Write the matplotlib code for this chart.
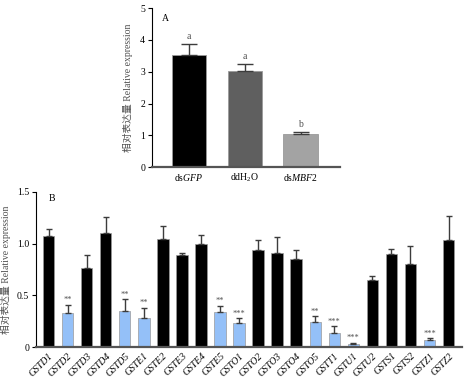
import matplotlib
matplotlib.use("Agg")
import matplotlib.pyplot as plt
import numpy as np

plt.rcParams["font.family"] = ["Liberation Serif", "Noto Sans CJK SC"]
plt.rcParams["mathtext.fontset"] = "custom"
plt.rcParams["mathtext.rm"] = "Liberation Serif"
plt.rcParams["mathtext.it"] = "Liberation Serif:italic"

# ---------------- data ----------------
a_labels = ["ds$\\mathit{GFP}$", "ddH$_2$O", "ds$\\mathit{MBF}$$\\mathit{2}$"]
a_values = [3.52, 3.03, 1.03]
a_errors = [0.36, 0.22, 0.08]
a_letters = ["a", "a", "b"]

genes = ["GSTD1", "GSTD2", "GSTD3", "GSTD4", "GSTD5", "GSTE1", "GSTE2", "GSTE3",
         "GSTE4", "GSTE5", "GSTO1", "GSTO2", "GSTO3", "GSTO4", "GSTO5", "GSTT1",
         "GSTU1", "GSTU2", "GSTS1", "GSTS2", "GSTZ1", "GSTZ2"]
b_values = [1.07, 0.33, 0.76, 1.10, 0.35, 0.28, 1.04, 0.89, 1.00, 0.34, 0.23,
            0.94, 0.91, 0.85, 0.24, 0.14, 0.03, 0.645, 0.90, 0.80, 0.065, 1.03]
b_errors = [0.07, 0.08, 0.13, 0.16, 0.11, 0.10, 0.13, 0.02, 0.08, 0.06, 0.05,
            0.09, 0.15, 0.085, 0.06, 0.06, 0.01, 0.045, 0.05, 0.18, 0.02, 0.24]
b_signif = ["", "**", "", "", "**", "**", "", "", "", "**", "***",
            "", "", "", "**", "***", "***", "", "", "", "***", ""]

BLUE = "#94c0f8"
GREY_TXT = "#505050"
ERR = "#3c3c3c"
YLABEL = "相对表达量 Relative expression"

fig = plt.figure(figsize=(4.65, 3.86), dpi=100)


def style_axes(ax):
    ax.spines["top"].set_visible(False)
    ax.spines["right"].set_visible(False)
    ax.spines["left"].set_linewidth(0.8)
    ax.spines["bottom"].set_linewidth(1.6)
    ax.spines["bottom"].set_color("#555555")
    ax.tick_params(axis="y", direction="out", length=3, width=0.8, labelsize=7, pad=2)
    ax.tick_params(axis="x", length=0, labelsize=7)


# ---------------- panel A ----------------
axA = fig.add_axes([0.327, 0.567, 0.404, 0.412])
xa = np.arange(len(a_values))
axA.bar(xa, a_values, width=0.62, color=["#000000", "#5f5f5f", "#a3a3a3"],
        edgecolor="#9a9a9a", linewidth=0.6, zorder=2)
axA.errorbar(xa, a_values, yerr=[np.zeros(len(a_errors)), a_errors], fmt="none",
             ecolor=ERR, elinewidth=1.0, capsize=6, capthick=1.0, zorder=3)
for x, v, e, t in zip(xa, a_values, a_errors, a_letters):
    axA.text(x, v + e + 0.08, t, ha="center", va="bottom", fontsize=7, color=GREY_TXT)
axA.set_xlim(-0.66, 2.7)
axA.set_ylim(0, 5)
axA.set_yticks([0, 1, 2, 3, 4, 5])
axA.set_xticks(xa)
axA.set_xticklabels(a_labels, fontsize=7)
style_axes(axA)
axA.set_ylabel(YLABEL, fontsize=7, color=GREY_TXT)
axA.yaxis.set_label_coords(-0.10, 0.5)
axA.text(0.05, 0.965, "A", transform=axA.transAxes, fontsize=7, va="top", ha="left")

# ---------------- panel B ----------------
axB = fig.add_axes([0.0774, 0.101, 0.916, 0.402])
xb = np.arange(len(genes))
colors = [BLUE if s else "#000000" for s in b_signif]
axB.bar(xb, b_values, width=0.6, color=colors, edgecolor="#9a9a9a",
        linewidth=0.5, zorder=2)
axB.errorbar(xb, b_values, yerr=[np.zeros(len(b_errors)), b_errors], fmt="none",
             ecolor=ERR, elinewidth=1.0, capsize=2.5, capthick=1.0, zorder=3)
for x, v, e, s in zip(xb, b_values, b_errors, b_signif):
    if s:
        axB.text(x, v + e + 0.005, s, ha="center", va="bottom", fontsize=6, color=GREY_TXT)
axB.set_xlim(-0.66, 21.7)
axB.set_ylim(0, 1.5)
axB.set_yticks([0, 0.5, 1.0, 1.5])
axB.set_yticklabels(["0", "0.5", "1.0", "1.5"])
axB.set_xticks(xb)
axB.set_xticklabels(genes, rotation=45, ha="right", rotation_mode="anchor",
                    fontsize=6.5, style="italic")
style_axes(axB)
axB.tick_params(axis="x", pad=3)
axB.set_ylabel(YLABEL, fontsize=7, color=GREY_TXT)
axB.yaxis.set_label_coords(-0.058, 0.5)
axB.text(0.03, 0.985, "B", transform=axB.transAxes, fontsize=7, va="top", ha="left")

fig.savefig("out.png", dpi=100)
